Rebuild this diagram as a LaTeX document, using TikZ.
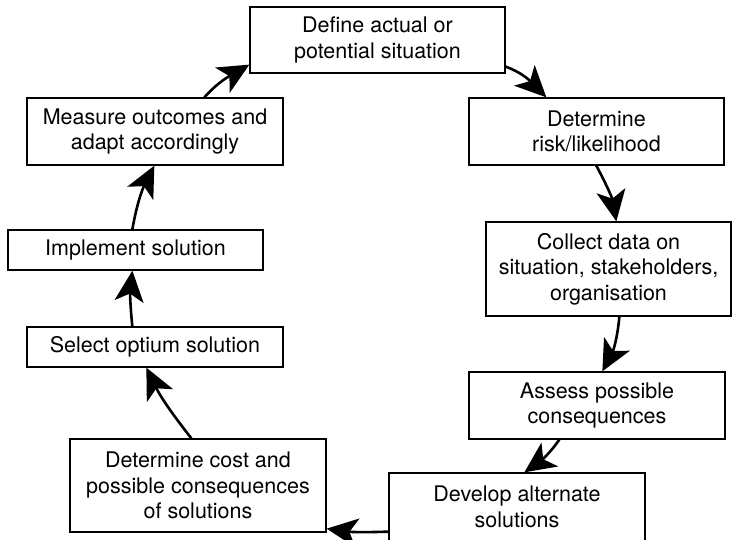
\documentclass[tikz,border=0pt]{standalone}
\usepackage{fontspec}
\setmainfont{TeX Gyre Heros}
\usetikzlibrary{arrows.meta,calc}
\begin{document}
\begin{tikzpicture}[x=1pt,y=1pt,
  stepbox/.style={draw, line width=1.3pt, inner sep=0pt, align=center,
    font=\fontsize{21.5}{25.5}\selectfont},
  flow/.style={line width=2.6pt,
    -{Stealth[length=31pt,width=29pt,inset=8pt]}}]
\useasboundingbox (0,0) rectangle (732,540);
\clip (0,0) rectangle (732,540);
\fill[white] (0,0) rectangle (732,540);

% steps of the cycle
\node[stepbox, minimum width=255pt, minimum height=66pt] (b1) at (377.5,500)
  {Define actual or\\potential situation};
\node[stepbox, minimum width=255pt, minimum height=67pt] (b2) at (596.5,408.5)
  {Determine\\risk/likelihood};
\node[stepbox, minimum width=245pt, minimum height=94pt] (b3) at (608.5,271)
  {Collect data on\\situation, stakeholders,\\organisation};
\node[stepbox, minimum width=256pt, minimum height=67pt] (b4) at (597,134.5)
  {Assess possible\\consequences};
\node[stepbox, minimum width=256pt, minimum height=68pt] (b5) at (517,33)
  {Develop alternate\\solutions};
\node[stepbox, minimum width=256pt, minimum height=93pt] (b6) at (198,54.5)
  {Determine cost and\\possible consequences\\of solutions};
\node[stepbox, minimum width=256pt, minimum height=40pt] (b7) at (155,193)
  {Select optium solution};
\node[stepbox, minimum width=255pt, minimum height=40pt] (b8) at (135.5,290)
  {Implement solution};
\node[stepbox, minimum width=256pt, minimum height=67pt] (b9) at (155,408.5)
  {Measure outcomes and\\adapt accordingly};

% connectors, clockwise
\draw[flow] ($(b1.south east)+(0,7)$) to[out=-20,in=135] ($(b2.north west)+(78,0)$);
\draw[flow] ($(b2.south west)+(128,0)$) to[out=-62,in=100] ($(b3.north west)+(131,0)$);
\draw[flow] ($(b3.south west)+(134,0)$) to[out=-95,in=62] ($(b4.north west)+(134,0)$);
\draw[flow] ($(b4.south west)+(91,0)$) to[out=-125,in=35] ($(b5.north west)+(136,0)$);
\draw[flow] ($(b5.south west)+(0,10)$) to[out=-178,in=-8] ($(b6.south east)+(0,4)$);
\draw[flow] ($(b6.north west)+(122,0)$) to[out=128,in=-64] ($(b7.south west)+(120,0)$);
\draw[flow] ($(b7.north west)+(106,0)$) to[out=96,in=-96] ($(b8.south west)+(125,0)$);
\draw[flow] ($(b8.north west)+(125,0)$) to[out=80,in=-117] ($(b9.south west)+(128,0)$);
\draw[flow] ($(b9.north west)+(178,0)$) to[out=48,in=210] ($(b1.south west)+(0,9)$);
\end{tikzpicture}
\end{document}
